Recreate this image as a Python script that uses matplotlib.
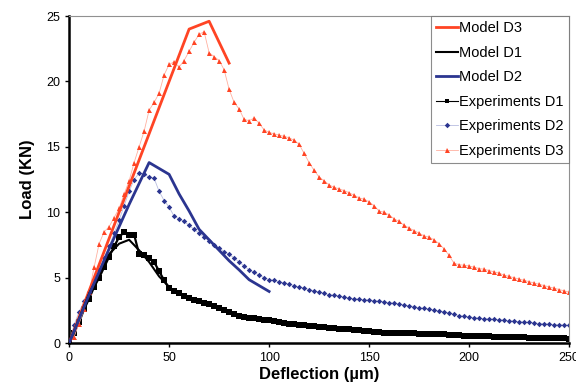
import numpy as np
import matplotlib
matplotlib.use('Agg')
from matplotlib import pyplot as plt

plt.rcParams['font.family'] = ['Liberation Sans', 'DejaVu Sans']

#%% model curves
model_d3_x = [0, 60, 70, 80]
model_d3_y = [0, 24.0, 24.6, 21.4]

model_d1_x = [0, 10, 20, 25, 30, 35, 40, 45, 50]
model_d1_y = [0, 3.8, 6.8, 7.6, 7.9, 7.1, 6.2, 5.1, 4.3]

model_d2_x = [0, 10, 20, 30, 40, 50, 55, 60, 65, 70, 75, 80, 85, 90, 100]
model_d2_y = [0, 3.7, 7.2, 10.6, 13.8, 12.9, 11.4, 10.1, 8.7, 7.9, 7.1, 6.3, 5.6, 4.85, 3.95]

#%% experiments (read every 2.5 um)
exp_x = np.arange(0, 250.1, 2.5)

exp_d1 = [0.0, 0.8, 1.6, 2.6, 3.4, 4.3, 5.0, 5.8, 6.6, 7.4, 8.1, 8.5, 8.3, 8.3, 6.8, 6.7,
          6.5, 6.2, 5.5, 4.8, 4.2, 4.0, 3.8, 3.6, 3.45, 3.3, 3.2, 3.1, 3.0, 2.85,
          2.7, 2.55, 2.4, 2.25, 2.1, 2.0, 1.95, 1.9, 1.85, 1.8, 1.75, 1.7, 1.6, 1.55,
          1.5, 1.45, 1.4, 1.37, 1.33, 1.3, 1.25, 1.2, 1.18, 1.15, 1.1, 1.07, 1.05,
          1.0, 0.97, 0.93, 0.9, 0.88, 0.85, 0.8, 0.77, 0.77, 0.76, 0.76, 0.75, 0.74,
          0.73, 0.72, 0.7, 0.7, 0.68, 0.67, 0.66, 0.65, 0.63, 0.58, 0.55, 0.54,
          0.53, 0.52, 0.51, 0.5, 0.5, 0.49, 0.48, 0.47, 0.45, 0.44, 0.43, 0.42,
          0.41, 0.4, 0.39, 0.38, 0.37, 0.36, 0.35]

exp_d2 = [0.0, 1.4, 2.4, 3.2, 3.9, 4.8, 5.6, 6.5, 7.4, 8.4, 9.4, 10.5, 11.6, 12.5,
          13.0, 12.9, 12.7, 12.6, 11.6, 10.9, 10.4, 9.7, 9.5, 9.3, 9.0, 8.7, 8.4,
          8.1, 7.8, 7.5, 7.3, 7.0, 6.8, 6.5, 6.2, 5.9, 5.6, 5.4, 5.2, 5.0, 4.85,
          4.8, 4.7, 4.6, 4.5, 4.4, 4.3, 4.2, 4.1, 4.0, 3.9, 3.8, 3.7, 3.65, 3.6,
          3.5, 3.45, 3.4, 3.35, 3.3, 3.3, 3.25, 3.2, 3.15, 3.1, 3.05, 3.0, 2.9,
          2.85, 2.8, 2.7, 2.65, 2.6, 2.5, 2.45, 2.4, 2.3, 2.2, 2.1, 2.05, 2.0,
          1.95, 1.9, 1.88, 1.85, 1.82, 1.8, 1.75, 1.7, 1.68, 1.65, 1.6, 1.58,
          1.55, 1.5, 1.48, 1.45, 1.42, 1.4, 1.37, 1.35]

exp_d3 = [0.0, 0.5, 1.5, 2.6, 3.9, 5.8, 7.6, 8.5, 8.9, 9.6, 10.3, 11.4, 12.4, 13.8,
          15.0, 16.2, 17.8, 18.4, 19.1, 20.5, 21.3, 21.5, 21.1, 21.6, 22.3, 23.0,
          23.6, 23.8, 22.2, 21.9, 21.6, 20.9, 19.4, 18.4, 17.9, 17.1, 17.0, 17.2,
          16.8, 16.3, 16.1, 16.0, 15.9, 15.8, 15.7, 15.5, 15.2, 14.5, 13.8, 13.2,
          12.7, 12.4, 12.1, 11.9, 11.8, 11.65, 11.5, 11.3, 11.1, 11.0, 10.8, 10.5,
          10.1, 10.0, 9.8, 9.5, 9.3, 9.0, 8.8, 8.6, 8.4, 8.2, 8.1, 7.9, 7.6, 7.2,
          6.7, 6.1, 6.0, 5.95, 5.9, 5.8, 5.7, 5.65, 5.55, 5.45, 5.35, 5.2, 5.1,
          5.0, 4.9, 4.8, 4.7, 4.6, 4.5, 4.4, 4.3, 4.2, 4.1, 4.0, 3.9]

red = '#ff4424'
navy = '#2b3590'

#%%
fig = plt.figure(figsize=(5.76, 3.86), dpi=100)
ax = fig.add_axes([0.12, 0.111, 0.868, 0.8475])

ax.plot(model_d3_x, model_d3_y, color=red, lw=2, label='Model D3', zorder=5)
ax.plot(model_d1_x, model_d1_y, color='black', lw=1.5, label='Model D1', zorder=5)
ax.plot(model_d2_x, model_d2_y, color=navy, lw=2, label='Model D2', zorder=5)
ax.plot(exp_x, exp_d1, color='black', lw=1.6, marker='s', ms=4, mew=0,
        label='Experiments D1')
ax.plot(exp_x, exp_d2, color='#b8bde0', lw=0.6, marker='D', ms=2.8, mew=0,
        mfc=navy, label='Experiments D2')
ax.plot(exp_x, exp_d3, color='#ffb0a0', lw=0.6, marker='^', ms=3.6, mew=0,
        mfc=red, label='Experiments D3')

ax.set_xlim(0, 250)
ax.set_ylim(0, 25)
ax.set_xticks([0, 50, 100, 150, 200, 250])
ax.set_yticks([0, 5, 10, 15, 20, 25])
ax.tick_params(labelsize=9, length=3, width=1, direction='out')

for s in ['left', 'bottom']:
    ax.spines[s].set_linewidth(1.8)
for s in ['top', 'right']:
    ax.spines[s].set_color('#909090')
    ax.spines[s].set_linewidth(0.8)

ax.set_xlabel('Deflection (µm)', fontsize=12, fontweight='bold', labelpad=2)
ax.set_ylabel('Load (KN)', fontsize=12, fontweight='bold', labelpad=8)

leg = ax.legend(loc='upper right', bbox_to_anchor=(1, 1), borderaxespad=0,
                fontsize=10.5, frameon=True, fancybox=False, handlelength=1.5,
                handletextpad=0.1, labelspacing=0.72, borderpad=0.35)
leg.get_frame().set_edgecolor('#707070')
leg.get_frame().set_linewidth(0.8)
leg.legend_handles[3].set_linewidth(0.8)
leg.legend_handles[3].set_markersize(3)

plt.savefig('out.png', dpi=100)
